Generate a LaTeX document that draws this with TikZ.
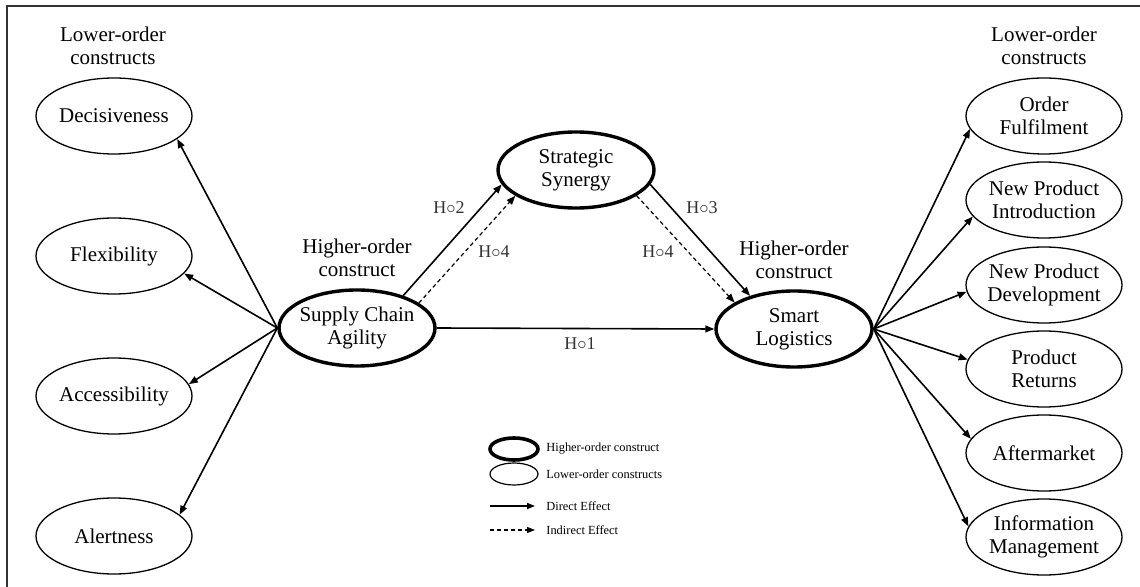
\documentclass[tikz,border=0pt]{standalone}
\usepackage{fontspec}
\setmainfont{Liberation Serif}
\usetikzlibrary{shapes.geometric,arrows.meta}
\begin{document}
\begin{tikzpicture}[x=0.5pt,y=-0.5pt,
  font=\fontsize{10.5}{11.6}\selectfont,
  lower/.style={draw, ellipse, line width=0.65pt, minimum width=78pt, minimum height=38pt, inner sep=0pt},
  higher/.style={draw, ellipse, line width=1.7pt, minimum width=78pt, minimum height=38pt, inner sep=0pt},
  txt/.style={align=center, inner sep=0pt},
  arr/.style={line width=0.8pt, -{Triangle[length=4.5pt,width=3.4pt]}},
  darr/.style={line width=0.6pt, dash pattern=on 2pt off 1.5pt, -{Triangle[length=4.5pt,width=3.4pt]}},
  hlab/.style={font=\fontsize{9}{10}\selectfont, text=black!80, inner sep=0pt},
  legtxt/.style={font=\fontsize{6.2}{7}\selectfont, anchor=west, inner sep=0pt}
]
\useasboundingbox (0,0) rectangle (1140,587);
% frame (top and left edges)
\coordinate (fA) at (7,600);
\coordinate (fB) at (7,6.5);
\coordinate (fC) at (1150,6.5);
\draw[line width=1pt, black!80] (fA) -- (fB) -- (fC);

% headers
\node[txt] (hl) at (113,46) {Lower-order\\constructs};
\node[txt] (hr) at (1044,46) {Lower-order\\constructs};
\node[txt] (hsca) at (357,258) {Higher-order\\construct};
\node[txt] (hsl) at (794,260) {Higher-order\\construct};

% left lower-order
\node[lower, label={[txt]center:Decisiveness}] (dec) at (114,116) {};
\node[lower, label={[txt]center:Flexibility}] (flex) at (114,256) {};
\node[lower, label={[txt]center:Accessibility}] (acc) at (114,396) {};
\node[lower, label={[txt]center:Alertness}] (ale) at (114,536) {};

% right lower-order
\node[lower, label={[txt]center:Order\\Fulfilment}] (of) at (1044,116) {};
\node[lower, label={[txt]center:New Product\\Introduction}] (npi) at (1044,200) {};
\node[lower, label={[txt]center:New Product\\Development}] (npd) at (1044,285) {};
\node[lower, label={[txt]center:Product\\Returns}] (pr) at (1044,369) {};
\node[lower, label={[txt]center:Aftermarket}] (am) at (1044,453) {};
\node[lower, label={[txt]center:Information\\Management}] (im) at (1044,537) {};

% higher-order
\node[higher, label={[txt]center:Supply Chain\\Agility}] (sca) at (357,328) {};
\node[higher, label={[txt]center:Smart\\Logistics}] (sl) at (794,329) {};
\node[higher, label={[txt]center:Strategic\\Synergy}] (ss) at (576,170) {};

% left arrows
\draw[arr] (sca.west) -- (dec.-20);
\draw[arr] (sca.west) -- (flex.-14);
\draw[arr] (sca.west) -- (acc.9);
\draw[arr] (sca.west) -- (ale.18);

% right arrows
\draw[arr] (sl.east) -- (of.190);
\draw[arr] (sl.east) -- (npi.193);
\draw[arr] (sl.east) -- (npd.185);
\draw[arr] (sl.east) -- (pr.173);
\draw[arr] (sl.east) -- (am.169);
\draw[arr] (sl.east) -- (im.172);

% hypotheses
\draw[arr] (sca.east) -- (sl.west);
\draw[arr] (sca.35) -- (ss.191);
\draw[darr] (sca.22) -- (ss.203);
\draw[arr] (ss.-11) -- (sl.143);
\draw[darr] (ss.-23) -- (sl.156);

\node[hlab] (h1) at (580,344) {H$\circ$1};
\node[hlab] (h2) at (449,208) {H$\circ$2};
\node[hlab] (h4a) at (494,252) {H$\circ$4};
\node[hlab] (h3) at (702,208) {H$\circ$3};
\node[hlab] (h4b) at (658,252) {H$\circ$4};

% legend
\node[draw, ellipse, line width=1.8pt, minimum width=24pt, minimum height=11pt, inner sep=0pt] (lg1) at (514,449) {};
\node[draw, ellipse, line width=0.6pt, minimum width=24pt, minimum height=11pt, inner sep=0pt] (lg2) at (514,474) {};
\node[legtxt] (lt1) at (546,449) {Higher-order construct};
\node[legtxt] (lt2) at (546,474) {Lower-order constructs};
\coordinate (la1) at (490,506);
\coordinate (lb1) at (535,506);
\coordinate (la2) at (490,530);
\coordinate (lb2) at (535,530);
\draw[line width=0.8pt, -{Triangle[length=4pt,width=3pt]}] (la1) -- (lb1);
\draw[line width=0.6pt, dash pattern=on 2pt off 1.5pt, -{Triangle[length=4pt,width=3pt]}] (la2) -- (lb2);
\node[legtxt] (lt3) at (546,506) {Direct Effect};
\node[legtxt] (lt4) at (546,530) {Indirect Effect};
\end{tikzpicture}
\end{document}
